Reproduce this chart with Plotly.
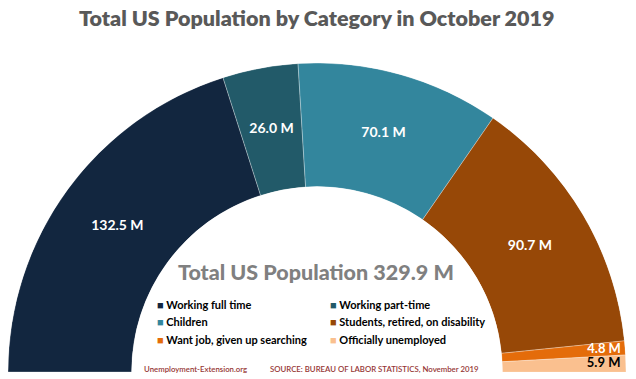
import plotly.graph_objects as go

categories = ["Working full time", "Working part-time", "Children",
              "Students, retired, on disability", "Want job, given up searching",
              "Officially unemployed"]
values = [132.5, 26.0, 70.1, 90.7, 4.8, 5.9]
labels = ["132.5 M", "26.0 M", "70.1 M", "90.7 M", "4.8 M", "5.9 M"]
total_population = 329.9
colors = ["#12263F", "#225A69", "#33869D", "#974807", "#E46C0A", "#FAC08F"]
label_colors = ["white", "white", "white", "white", "white", "black"]
label_sizes = [14, 14, 14, 14, 13, 13]
label_r = [0.5, 0.5, 0.5, 0.5, 0.83, 0.82]

spans = [v / total_population * 180 for v in values]
mids = []
acc = 0
for s in spans:
    mids.append(acc + s / 2)
    acc += s

fig = go.Figure()
fig.add_trace(go.Barpolar(
    r=[1] * len(values), theta=mids, width=spans,
    marker=dict(color=colors, line=dict(color="rgba(255,255,255,0.5)", width=0.6)),
    showlegend=False, hoverinfo="skip",
))
fig.add_trace(go.Scatterpolar(
    r=label_r, theta=mids, mode="text", text=labels,
    textfont=dict(family="Lato", size=label_sizes, color=label_colors, weight="bold"),
    textposition="middle center", showlegend=False, hoverinfo="skip",
))

fig.update_layout(
    width=636, height=379,
    margin=dict(l=0, r=0, t=0, b=0),
    paper_bgcolor="white",
    polar=dict(
        domain=dict(x=[8 / 636, 626 / 636], y=[7 / 379, 316 / 379]),
        sector=[0, 180], hole=0.6, bgcolor="rgba(0,0,0,0)",
        radialaxis=dict(range=[0, 1], visible=False),
        angularaxis=dict(direction="clockwise", rotation=180, visible=False,
                         showgrid=False, showticklabels=False, ticks=""),
    ),
    showlegend=False,
)

ann = []
ann.append(dict(text="Total US Population by Category in October 2019", x=317, y=379 - 18,
                font=dict(family="Lato", size=21.5, color="#595959", weight=800)))
ann.append(dict(text="Total US Population %.1f M" % total_population, x=316, y=379 - 272,
                font=dict(family="Lato", size=21.5, color="#808080", weight=900)))
leg_x = [155, 328]
leg_y = [304, 321, 339]
for i, (c, col) in enumerate(zip(categories, colors)):
    ann.append(dict(text="<span style='color:%s'>■</span> %s" % (col, c),
                    x=leg_x[i % 2], y=379 - leg_y[i // 2], xanchor="left",
                    font=dict(family="Lato", size=11, color="black", weight="bold")))
ann.append(dict(text="Unemployment-Extension.org", x=142, y=379 - 369, xanchor="left",
                font=dict(family="Lato", size=7.8, color="#963634", weight=600)))
ann.append(dict(text="SOURCE: BUREAU OF LABOR STATISTICS, November 2019", x=268, y=379 - 369,
                xanchor="left",
                font=dict(family="Lato", size=7.8, color="#963634", weight=600)))
for a in ann:
    a.setdefault("xanchor", "center")
    a.update(xref="paper", yref="paper", showarrow=False, yanchor="middle")
    a["x"] = a["x"] / 636
    a["y"] = a["y"] / 379
fig.update_layout(annotations=ann)

fig.write_html("out.html", config={"displayModeBar": False},
               post_script="document.body.style.margin='0';document.body.style.padding='0';")
